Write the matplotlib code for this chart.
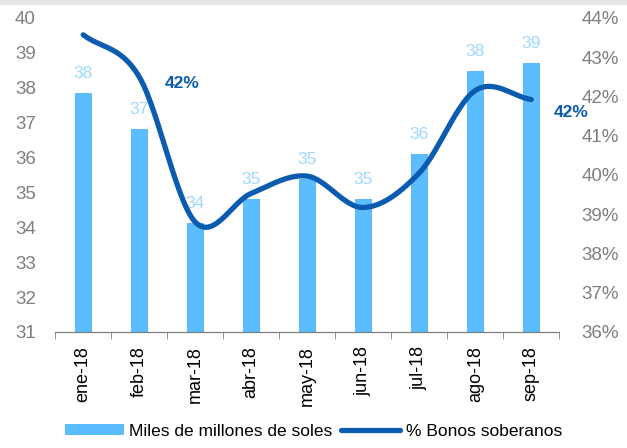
import numpy as np
import matplotlib.pyplot as plt
from matplotlib.patches import Rectangle

plt.rcParams['font.family'] = ['Liberation Sans', 'DejaVu Sans']

meses = ['ene-18', 'feb-18', 'mar-18', 'abr-18', 'may-18', 'jun-18', 'jul-18', 'ago-18', 'sep-18']
miles_millones = [37.85, 36.82, 34.12, 34.8, 35.37, 34.8, 36.1, 38.47, 38.7]
bonos_pct = [43.57, 42.5, 38.8, 39.53, 39.97, 39.17, 40.05, 42.15, 41.92]

bar_color = '#5BBDFD'
line_color = '#0B5CB0'
gray = '#7f7f7f'


def smooth(x, y, n=30):
    # catmull-rom curve through the points, like a spreadsheet "smoothed line"
    x = np.asarray(x, float)
    y = np.asarray(y, float)
    px = np.concatenate([[2 * x[0] - x[1]], x, [2 * x[-1] - x[-2]]])
    py = np.concatenate([[2 * y[0] - y[1]], y, [2 * y[-1] - y[-2]]])
    xs, ys = [], []
    t = np.linspace(0, 1, n)
    for i in range(1, len(px) - 2):
        for p, out in ((px, xs), (py, ys)):
            p0, p1, p2, p3 = p[i - 1], p[i], p[i + 1], p[i + 2]
            out.extend(0.5 * (2 * p1 + (-p0 + p2) * t + (2 * p0 - 5 * p1 + 4 * p2 - p3) * t ** 2
                              + (-p0 + 3 * p1 - 3 * p2 + p3) * t ** 3))
    return np.array(xs), np.array(ys)


fig = plt.figure(figsize=(6.27, 4.48), dpi=100)
fig.patches.append(Rectangle((0, 0.99), 1, 0.01, transform=fig.transFigure,
                             color='#e6e6e6', zorder=0))
ax = fig.add_axes([0.088, 0.259, 0.804, 0.701])
ax2 = ax.twinx()

x = np.arange(len(meses))
bars = ax.bar(x, [v - 31 for v in miles_millones], bottom=31, width=0.3,
              color=bar_color, label='Miles de millones de soles', zorder=2)
for xi, v in zip(x, miles_millones):
    ax.text(xi, v + 0.35, f'{round(v):d}', ha='center', va='bottom',
            color='#9ED8FF', fontsize=12.5)

ax.set_ylim(31, 40)
ax.set_xlim(-0.5, len(meses) - 0.5)
ax.set_yticks(range(31, 41))
ax.set_xticks(x)
ax.set_xticklabels(meses, rotation=90, fontsize=13)
ax.set_xticks(np.arange(-0.5, len(meses), 1), minor=True)
ax.tick_params(axis='x', which='major', length=0, pad=10)
ax.tick_params(axis='x', which='minor', length=5, color=gray, direction='out')
ax.tick_params(axis='y', length=0, labelsize=13.5, labelcolor=gray, pad=14)

sx, sy = smooth(x, bonos_pct)
line, = ax2.plot(sx, sy, color=line_color, linewidth=3.8,
                 solid_capstyle='round', label='% Bonos soberanos', zorder=3)
ax2.set_ylim(36, 44)
ax2.set_yticks(range(36, 45))
ax2.set_yticklabels([f'{v}%' for v in range(36, 45)])
ax2.tick_params(axis='y', length=0, labelsize=13.5, labelcolor=gray, pad=16)

ax2.text(1.77, 42.32, '42%', color=line_color, fontsize=12.5, fontweight='bold',
         ha='center', va='center')
ax2.text(8.72, 41.58, '42%', color=line_color, fontsize=12.5, fontweight='bold',
         ha='center', va='center', clip_on=False)

for a in (ax, ax2):
    for s in ('top', 'left', 'right'):
        a.spines[s].set_visible(False)
    a.spines['bottom'].set_color(gray)

fig.legend([bars, line], ['Miles de millones de soles', '% Bonos soberanos'],
           loc='lower center', bbox_to_anchor=(0.5, -0.015), ncol=2, frameon=False,
           fontsize=12.5, handlelength=3.4, handleheight=0.6, columnspacing=0.5,
           handletextpad=0.3)

fig.savefig('out.png', dpi=100)
plt.close(fig)
